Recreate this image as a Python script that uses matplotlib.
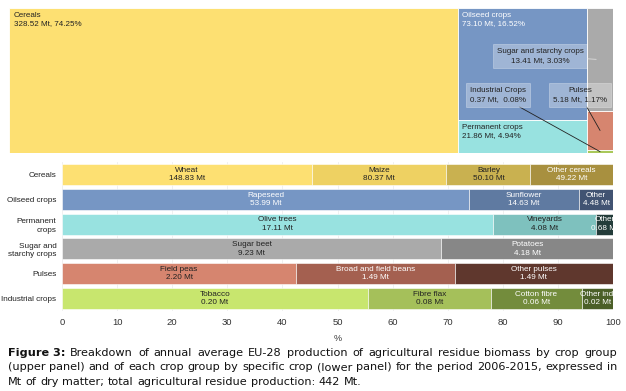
import matplotlib
matplotlib.use("Agg")
import matplotlib.pyplot as plt
from matplotlib.patches import Rectangle

# ---------------- data ----------------
groups = ["Cereals", "Oilseed crops", "Permanent crops", "Sugar and starchy crops", "Pulses", "Industrial crops"]
group_ylabels = ["Cereals", "Oilseed crops", "Permanent\ncrops", "Sugar and\nstarchy crops", "Pulses", "Industrial crops"]
group_mt = [328.52, 73.10, 21.86, 13.41, 5.18, 0.37]
group_pct = [74.25, 16.52, 4.94, 3.03, 1.17, 0.08]
group_colors = ["#fde072", "#7696c4", "#98e2e0", "#aaaaaa", "#d6856f", "#a9c85a"]

crops_cereals = ["Wheat", "Maize", "Barley", "Other cereals"]
mt_cereals = [148.83, 80.37, 50.10, 49.22]
crops_oilseed = ["Rapeseed", "Sunflower", "Other"]
mt_oilseed = [53.99, 14.63, 4.48]
crops_permanent = ["Olive trees", "Vineyards", "Other"]
mt_permanent = [17.11, 4.08, 0.68]
crops_sugar = ["Sugar beet", "Potatoes"]
mt_sugar = [9.23, 4.18]
crops_pulses = ["Field peas", "Broad and field beans", "Other pulses"]
mt_pulses = [2.20, 1.49, 1.49]
crops_industrial = ["Tobacco", "Fibre flax", "Cotton fibre", "Other ind."]
mt_industrial = [0.20, 0.08, 0.06, 0.02]

crop_names = [crops_cereals, crops_oilseed, crops_permanent, crops_sugar, crops_pulses, crops_industrial]
crop_mt = [mt_cereals, mt_oilseed, mt_permanent, mt_sugar, mt_pulses, mt_industrial]
crop_colors = [
    ["#fde072", "#eed162", "#c9b150", "#a8903f"],
    ["#7696c4", "#5f7aa1", "#415372"],
    ["#98e2e0", "#7ec1be", "#233c3a"],
    ["#aaaaaa", "#878787"],
    ["#d6856f", "#a46050", "#5f372d"],
    ["#c8e66e", "#a5c05a", "#738c3c", "#4b5f28"],
]
crop_text_white = [
    [False, False, False, True],
    [True, True, True],
    [False, False, True],
    [False, True],
    [False, True, True],
    [False, False, True, True],
]
xticks = [0, 10, 20, 30, 40, 50, 60, 70, 80, 90, 100]

W, H = 626, 391
fig = plt.figure(figsize=(W / 100, H / 100), dpi=100)
plt.rcParams['font.family'] = ['Liberation Sans', 'DejaVu Sans']


def fax(x0, y0, x1, y1):
    return fig.add_axes([x0 / W, 1 - y1 / H, (x1 - x0) / W, (y1 - y0) / H])

# ---------------- treemap (upper panel) ----------------
tm = fax(9, 8, 613, 153)
tm.set_xlim(0, 1)
tm.set_ylim(1, 0)
tm.axis("off")
total = sum(group_pct)
cols = [[0], [1, 2], [3, 4, 5]]
x = 0.0
rects = {}
for col in cols:
    csum = sum(group_pct[i] for i in col)
    w = csum / total
    y = 0.0
    for i in col:
        h = group_pct[i] / csum
        rects[i] = (x, y, w, h)
        tm.add_patch(Rectangle((x, y), w, h, facecolor=group_colors[i], edgecolor="white", lw=0.6))
        y += h
    x += w

def lab(i):
    return f"{groups[i]}\n{group_mt[i]:.2f} Mt, {group_pct[i]:.2f}%"

for i, col in [(0, "#222222"), (1, "white"), (2, "#222222")]:
    rx, ry, rw, rh = rects[i]
    tm.text(rx + 0.008, ry + 0.03, lab(i), fontsize=5.8, color=col, va="top", ha="left", linespacing=1.2)

def px2tm(px, py):
    return (px - 9) / 604, (py - 8) / 145

box = dict(boxstyle="square,pad=0.5", facecolor=(1, 1, 1, 0.3), edgecolor=(1, 1, 1, 0.4), lw=0.5)
rx, ry, rw, rh = rects[3]
tm.annotate(lab(3), xy=(rx + rw * 0.35, ry + rh * 0.5), xytext=px2tm(540, 56), fontsize=5.8, color="#222222",
            ha="center", va="center", linespacing=1.3, bbox=box,
            arrowprops=dict(arrowstyle="-", color="#dddddd", lw=0.6, shrinkA=0, shrinkB=0))
rx, ry, rw, rh = rects[5]
tm.annotate("Industrial Crops\n0.37 Mt,  0.08%", xy=(rx + rw * 0.5, ry + rh * 0.5), xytext=px2tm(498, 95),
            fontsize=5.8, color="#222222", ha="center", va="center", linespacing=1.3, bbox=box,
            arrowprops=dict(arrowstyle="-", color="#222222", lw=0.6, shrinkA=0, shrinkB=0))
rx, ry, rw, rh = rects[4]
tm.annotate(lab(4), xy=(rx + rw * 0.5, ry + rh * 0.5), xytext=px2tm(580, 95),
            fontsize=5.8, color="#222222", ha="center", va="center", linespacing=1.3, bbox=box,
            arrowprops=dict(arrowstyle="-", color="#222222", lw=0.6, shrinkA=0, shrinkB=0))

# ---------------- stacked bars (lower panel) ----------------
ax = fax(62, 162, 613, 311)
ax.set_xlim(0, 100)
ax.set_ylim(len(groups) - 0.5, -0.5)
for s in ax.spines.values():
    s.set_visible(False)
ax.set_axisbelow(True)
ax.grid(axis="x", color="#eeeeee", lw=0.6)
ax.tick_params(length=0)
ax.set_xticks(xticks)
ax.set_xticklabels([str(t) for t in xticks], fontsize=6.8, color="#333333")
ax.tick_params(axis="x", pad=5)
ax.set_yticks(range(len(groups)))
ax.set_yticklabels(group_ylabels, fontsize=5.9, color="#222222", linespacing=1.3)
ax.tick_params(axis="y", pad=4)
ax.set_xlabel("%", fontsize=6.5, color="#333333", labelpad=5)

for gi in range(len(groups)):
    vals = crop_mt[gi]
    tot = sum(vals)
    left = 0.0
    for ci, v in enumerate(vals):
        p = v / tot * 100
        ax.barh(gi, p, left=left, height=0.85, color=crop_colors[gi][ci], edgecolor="white", lw=0.4)
        tc = "white" if crop_text_white[gi][ci] else "#222222"
        ax.text(left + p / 2, gi, f"{crop_names[gi][ci]}\n{v:.2f} Mt", ha="center", va="center",
                fontsize=5.9, color=tc, linespacing=1.25)
        left += p

# ---------------- caption ----------------
fig.canvas.draw()
renderer = fig.canvas.get_renderer()
cap_lines = [
    [("Figure 3:", "bold")] + [(w, "normal") for w in "Breakdown of annual average EU-28 production of agricultural residue biomass by crop group".split()],
    [(w, "normal") for w in "(upper panel) and of each crop group by specific crop (lower panel) for the period 2006-2015, expressed in".split()],
    [(w, "normal") for w in "Mt of dry matter; total agricultural residue production: 442 Mt.".split()],
]
cap_y = [353, 367, 382]
cx0, cx1 = 8, 617
probe = fig.text(0, 0, " ".join(w for w, _ in cap_lines[2]), fontsize=10, family="DejaVu Sans")
natural = probe.get_window_extent(renderer).width
probe.remove()
fs = 10 * (360 - cx0) / natural
for li, words in enumerate(cap_lines):
    texts = []
    for w, wt in words:
        t = fig.text(0, 1 - cap_y[li] / H, w, fontsize=fs, fontweight=wt, family="DejaVu Sans",
                     va="center", ha="left", color="#111111")
        texts.append(t)
    widths = [t.get_window_extent(renderer).width for t in texts]
    if li < 2:
        gap = (cx1 - cx0 - sum(widths)) / (len(words) - 1)
    else:
        sp = fig.text(0, 0, "a a", fontsize=fs, family="DejaVu Sans")
        sp2 = fig.text(0, 0, "aa", fontsize=fs, family="DejaVu Sans")
        gap = sp.get_window_extent(renderer).width - sp2.get_window_extent(renderer).width
        sp.remove(); sp2.remove()
    xx = cx0
    for t, wd in zip(texts, widths):
        t.set_x(xx / W)
        xx += wd + gap

fig.savefig("out.png", dpi=100)
